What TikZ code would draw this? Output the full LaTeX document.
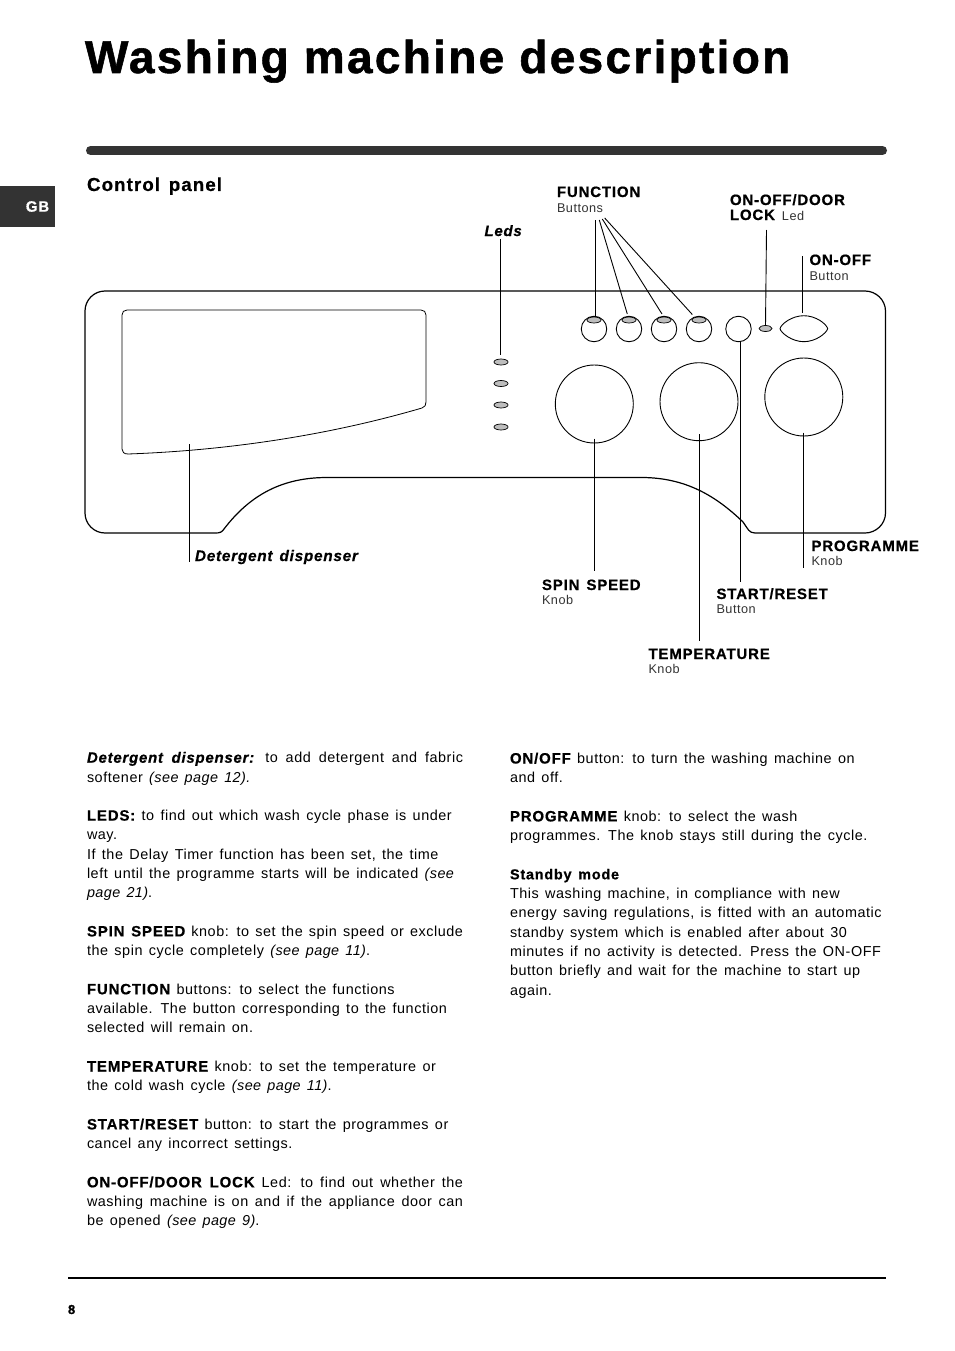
\documentclass[tikz,border=0pt]{standalone}
\usepackage{fontspec}
\setmainfont[LetterSpace=3.8,WordSpace=1.4,ItalicFeatures={LetterSpace=3},BoldFeatures={LetterSpace=5.5,FakeBold=.6},BoldItalicFeatures={LetterSpace=5,FakeBold=.6}]{Liberation Sans}
\newfontfamily\titlefont[LetterSpace=5,BoldFeatures={FakeBold=1.2}]{Liberation Sans}
\newcommand\hilite[1]{{\fontsize{15}{19.3}\selectfont\bfseries #1}}
\usetikzlibrary{positioning,shapes.geometric}
\definecolor{inkdark}{HTML}{333333}
\definecolor{ledgray}{HTML}{BDBDBD}
\begin{document}
\begin{tikzpicture}[x=1pt,y=-1pt, every node/.style={inner sep=0pt,outer sep=0pt},
  para/.style={anchor=north west,text width=376pt,align=justify,font=\fontsize{14.4}{19.3}\selectfont,
    execute at begin node=\strut,execute at end node=\strut},
  lab/.style={anchor=base west,align=left,font=\fontsize{15}{15}\selectfont\bfseries},
  sublab/.style={anchor=base west,font=\fontsize{12.7}{13}\selectfont,text=inkdark},
  knob/.style={draw,circle,line width=.9pt,minimum size=78pt},
  fbut/.style={draw,circle,line width=.9pt,minimum size=25.5pt},
  led/.style={draw,ellipse,line width=.7pt,fill=ledgray,minimum width=14pt,minimum height=6pt},
  lead/.style={line width=.9pt}]
\useasboundingbox (0,0) rectangle (954,1351);
% page furniture
\node[anchor=base west,font=\titlefont\fontsize{46}{46}\selectfont\bfseries] (title) at (85,73) {Washing machine description};
\draw[inkdark,line width=9pt,line cap=round] (90.5,150.5) -- (882.5,150.5);
\node[fill=inkdark,text=white,minimum width=55pt,minimum height=41pt,anchor=north west,
  font=\fontsize{15}{15}\selectfont\bfseries] (gb) at (0,186) {\hspace*{20pt}GB};
\node[lab,font=\fontsize{18.8}{18.8}\selectfont\bfseries] (ctrl) at (87,191) {Control panel};
\draw[line width=2pt] (68,1277.5) -- (886,1277.5);
\node[lab,font=\fontsize{13}{13}\selectfont\bfseries] (pagenum) at (68,1314) {8};
% panel
\draw[line width=1.2pt] (105,291) -- (865,291) .. controls (876,291) and (885.5,300) .. (885.5,311) -- (885.5,513)
  .. controls (885.5,524) and (876,533) .. (865,533) -- (755,533) .. controls (749,533) and (748,529) .. (743,522)
  .. controls (715,495) and (685,478) .. (643,477.5) -- (327,477.5)
  .. controls (282,477.5) and (250,495) .. (224,529) .. controls (222,532) and (220,533) .. (216,533)
  -- (105,533) .. controls (94,533) and (85,524) .. (85,513) -- (85,311) .. controls (85,300) and (94,291) .. (105,291) -- cycle;
\draw[line width=.8pt] (127,310) -- (421,310) .. controls (424,310) and (426,312) .. (426,315) -- (426,402)
  .. controls (426,405) and (425,407) .. (422,408) .. controls (340,432) and (240,450) .. (128,454)
  .. controls (124,454) and (122,452) .. (122,449) -- (122,315) .. controls (122,312) and (124,310) .. (127,310) -- cycle;
% knobs and buttons
\node[knob] (spin) at (594.3,404) {};
\node[knob] (temp) at (699,401.7) {};
\node[knob] (prog) at (803.8,397) {};
\foreach \name/\xpos in {fa/594,fb/629,fc/664,fd/699}{
  \node[fbut] (\name) at (\xpos,329) {};
  \node[led] (led\name) at (\xpos,320) {};
}
\node[fbut] (start) at (738.5,329) {};
\node[led,minimum width=13pt] (doorled) at (765.5,328.5) {};
\draw[line width=.9pt] (780,328.7) .. controls (781,324) and (792,315.7) .. (803.8,315.7)
  .. controls (816,315.7) and (826.5,324) .. (827.7,328.7) .. controls (826.5,333) and (816,341.7) .. (803.8,341.7)
  .. controls (792,341.7) and (781,333) .. (780,328.7) -- cycle;
\coordinate (onofftip) at (802.3,313);
\foreach \name/\ypos in {la/362,lb/383.5,lc/405,ld/427}{
  \node[led] (\name) at (501,\ypos) {};
}
% labels
\node[lab] (function) at (557,197) {FUNCTION};
\node[sublab] (functionsub) at (557,212) {Buttons};
\node[lab,font=\fontsize{15}{15}\selectfont\bfseries\itshape] (leds) at (484.5,236) {Leds};
\node[lab] (doorlock) at (730,205) {ON-OFF/DOOR};
\node[lab] (doorlockb) at (730,220) {LOCK {\mdseries\fontsize{12.7}{13}\selectfont\color{inkdark} Led}};
\node[lab] (onofflab) at (809.5,265) {ON-OFF};
\node[sublab] (onoffsub) at (809.5,280) {Button};
\node[lab,font=\fontsize{15.3}{15.3}\selectfont\bfseries\itshape] (deter) at (195,561) {Detergent dispenser};
\node[lab] (proglab) at (811.5,551) {PROGRAMME};
\node[sublab] (progsub) at (811.5,565) {Knob};
\node[lab] (spinlab) at (542,590) {SPIN SPEED};
\node[sublab] (spinsub) at (542,604) {Knob};
\node[lab] (startlab) at (716.5,599) {START/RESET};
\node[sublab] (startsub) at (716.5,613) {Button};
\node[lab] (templab) at (648.5,659) {TEMPERATURE};
\node[sublab] (tempsub) at (648.5,673) {Knob};
% leaders
\coordinate (deterend) at (189,562); \coordinate (deterbox) at (189,444);
\coordinate (ledstop) at (500.5,355);
\coordinate (fatip) at (595,317); \coordinate (fbtip) at (627.3,314);
\coordinate (fctip) at (662,314); \coordinate (fdtip) at (692.3,314.5);
\draw[lead] (595,220) -- (fatip);
\draw[lead] (599.3,220) -- (fbtip);
\draw[lead] (602.3,219) -- (fctip);
\draw[lead] (604.7,218) -- (fdtip);
\draw[lead] (500.5,239) -- (ledstop);
\draw[lead] (766.5,230) -- (doorled.north);
\draw[lead] (802.3,256) -- (onofftip);
\draw[lead] (start.south) ++(2,0) -- (740.5,582);
\draw[lead] (spin.south) ++(0,-4.4) -- (594.3,571);
\draw[lead] (temp.south) ++(0,-6.3) -- (699,641);
\draw[lead] (prog.south) ++(-.5,-3.4) -- (803.3,568);
\draw[lead] (deterbox) -- (deterend);
% left column
\node[para] (pdet) at (87,749.2) {\hilite{\itshape Detergent dispenser:} to add detergent and fabric\linebreak softener {\itshape (see page 12).}};
\node[para,below=19.3pt of pdet] (pleds) {\hilite{LEDS:} to find out which wash cycle phase is under\\ way.\\ If the Delay Timer function has been set, the time\\ left until the programme starts will be indicated {\itshape (see\\ page 21)}.};
\node[para,below=19.3pt of pleds] (pspin) {\hilite{SPIN SPEED} knob: to set the spin speed or exclude\linebreak the spin cycle completely {\itshape (see page 11)}.};
\node[para,below=19.3pt of pspin] (pfunc) {\hilite{FUNCTION} buttons: to select the functions\\ available. The button corresponding to the function\\ selected will remain on.};
\node[para,below=19.3pt of pfunc] (ptemp) {\hilite{TEMPERATURE} knob: to set the temperature or\\ the cold wash cycle {\itshape (see page 11)}.};
\node[para,below=19.3pt of ptemp] (pstart) {\hilite{START/RESET} button: to start the programmes or\\ cancel any incorrect settings.};
\node[para,below=19.3pt of pstart] (pdoor) {\hilite{ON-OFF/DOOR LOCK} Led: to find out whether the\linebreak washing machine is on and if the appliance door can\linebreak be opened {\itshape (see page 9)}.};
% right column
\node[para] (ponoff) at (510,750) {\hilite{ON/OFF} button: to turn the washing machine on\\ and off.};
\node[para,below=19.3pt of ponoff] (pprog) {\hilite{PROGRAMME} knob: to select the wash\\ programmes. The knob stays still during the cycle.};
\node[para,below=19.3pt of pprog] (pstand) {{\bfseries Standby mode}\\ This washing machine, in compliance with new\\ energy saving regulations, is fitted with an automatic\\ standby system which is enabled after about 30\\ minutes if no activity is detected. Press the ON-OFF\\ button briefly and wait for the machine to start up\\ again.};
\end{tikzpicture}
\end{document}
